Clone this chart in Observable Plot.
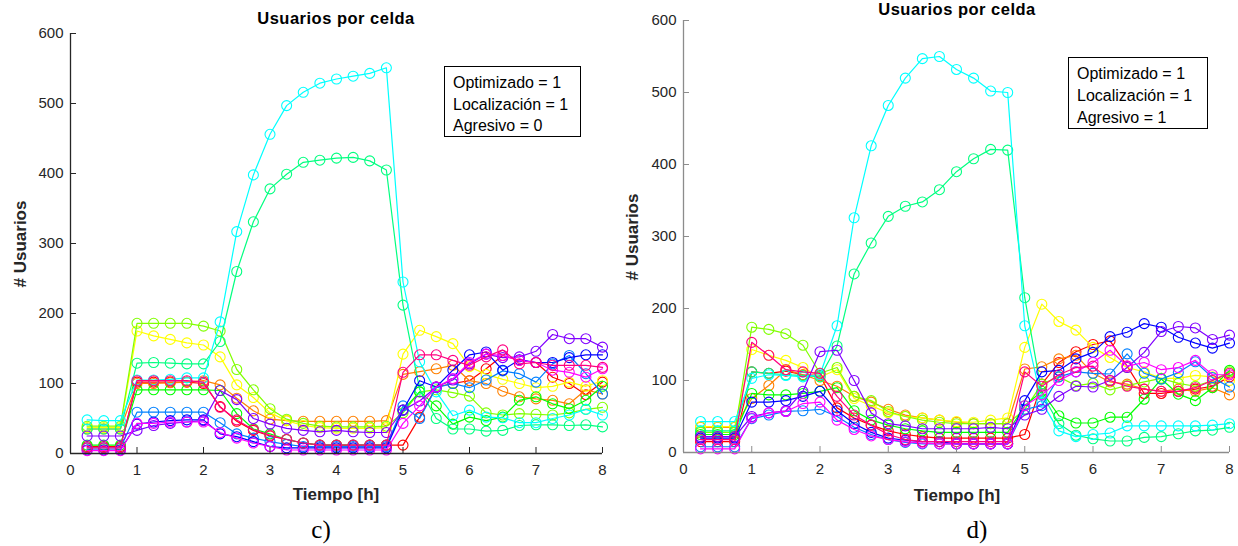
<!DOCTYPE html>
<html><head><meta charset="utf-8">
<script src="https://cdn.jsdelivr.net/npm/d3@7"></script>
<script src="https://cdn.jsdelivr.net/npm/@observablehq/plot@0.6"></script>
<style>
body{margin:0;background:#fff;}
#wrap{position:relative;width:1238px;height:546px;overflow:hidden;background:#fff;font-family:"Liberation Sans",Arial,sans-serif;}
.panel{position:absolute;top:0;}
.t{position:absolute;white-space:nowrap;line-height:1;transform:translate(-50%,-50%);color:#000;}
.title{font-weight:bold;font-size:16.5px;letter-spacing:0.5px;}
.xl{font-weight:bold;font-size:17px;color:#262626;}
.yl{font-weight:bold;font-size:17px;color:#262626;transform:translate(-50%,-50%) rotate(-90deg);}
.cap{font-family:"Liberation Serif","Times New Roman",serif;font-size:25px;}
.box{position:absolute;border:1.3px solid #000;background:#fff;box-sizing:border-box;}
.box div{position:absolute;left:8px;font-size:16px;line-height:1;color:#000;white-space:nowrap;transform:translateY(-50%);}
</style>
</head><body>
<div id="wrap">
  <div class="panel" id="pc" style="left:0px"></div>
  <div class="panel" id="pd" style="left:620px"></div>
  <div class="t title" style="left:336px;top:18px">Usuarios por celda</div>
  <div class="t title" style="left:957px;top:9px">Usuarios por celda</div>
  <div class="t yl" style="left:20px;top:244px"># Usuarios</div>
  <div class="t yl" style="left:632px;top:237px"># Usuarios</div>
  <div class="t xl" style="left:336px;top:494px">Tiempo [h]</div>
  <div class="t xl" style="left:957px;top:495px">Tiempo [h]</div>
  <div class="t cap" style="left:321px;top:529px">c)</div>
  <div class="t cap" style="left:977px;top:529px">d)</div>
  <div class="box" style="left:444px;top:66px;width:137px;height:71px">
    <div style="top:16px">Optimizado = 1</div>
    <div style="top:38px">Localización = 1</div>
    <div style="top:59px">Agresivo = 0</div>
  </div>
  <div class="box" style="left:1068px;top:57px;width:140px;height:72px">
    <div style="top:16px">Optimizado = 1</div>
    <div style="top:38px">Localización = 1</div>
    <div style="top:60px">Agresivo = 1</div>
  </div>
</div>
<script>
const tiempo = [0.25,0.5,0.75,1,1.25,1.5,1.75,2,2.25,2.5,2.75,3,3.25,3.5,3.75,4,4.25,4.5,4.75,5,5.25,5.5,5.75,6,6.25,6.5,6.75,7,7.25,7.5,7.75,8];
const xTicks = [0,1,2,3,4,5,6,7,8];
const yTicks = [0,100,200,300,400,500,600];
const colores = ["#ff0000","#ff8000","#ffff00","#80ff00","#00ff00","#00ff80","#00ffff","#0080ff","#0000ff","#8000ff","#ff00ff","#ff0080"];

// Panel c) Optimizado=1, Localización=1, Agresivo=0
const cRed       = [10,10,10,102,102,102,102,100,67,46,33,25,20,15,12,12,12,12,12,12,52,95,100,104,121,140,133,130,109,100,84,102];
const cOrange    = [35,35,35,100,100,101,102,104,98,79,61,49,47,46,46,46,46,46,47,113,117,121,126,104,100,89,81,78,76,71,91,85];
const cYellow    = [37,37,37,175,168,163,158,155,138,98,80,58,47,40,37,36,36,36,37,142,176,167,157,124,113,106,100,94,96,102,96,104];
const cChartreuse= [39,39,39,186,186,186,186,182,175,120,91,64,49,43,39,38,38,38,39,58,88,91,87,82,58,55,57,56,55,58,63,66];
const cGreen     = [12,12,12,91,91,91,91,91,90,57,35,28,20,15,12,12,12,12,12,62,88,68,42,52,47,52,76,81,71,64,76,96];
const cSpring    = [35,35,35,129,130,129,128,128,160,260,331,378,399,416,419,422,423,418,405,212,92,50,35,35,32,33,40,41,41,40,41,38];
const cCyan      = [48,47,47,105,105,106,108,108,188,317,398,456,497,516,529,535,539,543,551,245,131,88,54,62,52,51,44,44,50,55,63,55];
const cAzure     = [8,8,8,59,59,59,59,59,44,28,22,17,13,10,10,10,10,10,10,68,50,94,100,94,105,118,114,102,128,140,114,85];
const cBlue      = [5,5,5,42,45,47,48,48,28,24,17,10,8,8,8,8,8,8,8,62,104,95,119,141,145,119,134,130,130,137,141,141];
const cViolet    = [25,25,25,33,40,43,45,47,90,77,50,42,36,33,31,33,31,30,30,62,75,95,105,128,142,137,138,146,170,164,164,152];
const cMagenta   = [4,4,4,43,43,45,45,45,30,22,15,10,5,5,5,5,5,5,5,43,68,95,107,130,142,140,133,130,119,116,109,121];
const cRose      = [8,8,8,104,104,104,104,102,66,48,34,26,20,15,12,12,12,12,12,116,141,141,133,126,138,148,128,130,126,126,126,123];

// Panel d) Optimizado=1, Localización=1, Agresivo=1
const dRed       = [15,15,15,112,110,113,108,107,62,48,38,30,25,22,20,20,20,20,20,25,95,125,140,150,155,120,82,82,85,88,92,105];
const dOrange    = [35,35,35,75,93,115,108,100,92,78,70,60,52,48,45,42,40,40,40,116,119,130,135,110,98,95,88,85,88,85,90,80];
const dYellow    = [36,36,36,143,135,128,118,105,115,75,65,55,50,48,45,43,42,45,48,146,206,182,170,146,132,118,112,103,103,107,105,100];
const dChartreuse= [28,28,28,174,171,165,149,110,118,78,72,57,50,45,42,40,40,40,40,60,95,105,93,96,87,93,98,103,96,92,100,112];
const dGreen     = [25,25,25,82,80,80,82,85,90,58,45,38,33,30,28,28,28,28,28,65,85,51,41,41,49,49,74,102,81,72,90,114];
const dSpring    = [30,30,30,112,110,108,107,105,148,248,291,328,342,348,365,390,408,421,420,215,82,40,24,19,16,16,21,22,26,30,31,35];
const dCyan      = [43,43,43,103,108,107,105,108,176,326,426,482,520,547,550,532,520,502,500,176,70,30,22,25,27,37,37,37,37,37,38,40];
const dAzure     = [8,8,8,47,52,57,58,60,50,35,25,18,14,12,12,12,12,12,12,60,65,105,112,110,109,137,110,102,111,126,104,91];
const dBlue      = [20,20,20,70,70,72,78,85,58,40,28,20,17,15,15,12,12,12,12,72,112,114,130,139,161,167,179,174,160,152,145,152];
const dViolet    = [22,22,22,50,55,58,85,140,142,100,55,40,37,33,33,33,33,35,33,52,60,78,92,91,100,118,139,168,175,173,157,163];
const dMagenta   = [5,5,5,48,55,57,68,70,45,32,23,18,15,13,12,12,12,12,12,65,80,100,112,125,142,120,125,115,118,128,108,108];
const dRose      = [18,18,18,153,135,115,112,110,78,52,38,25,18,15,15,15,15,15,15,112,92,108,118,120,100,92,88,85,85,90,100,110];

const cSeries = [cRed,cOrange,cYellow,cChartreuse,cGreen,cSpring,cCyan,cAzure,cBlue,cViolet,cMagenta,cRose];
const dSeries = [dRed,dOrange,dYellow,dChartreuse,dGreen,dSpring,dCyan,dAzure,dBlue,dViolet,dMagenta,dRose];

function panel(series, o) {
  const plotW = o.width - o.marginLeft - o.marginRight;
  const plotH = o.height - o.marginTop - o.marginBottom;
  const tickLen = 6;
  const marks = [
    Plot.axisX({ticks: xTicks, tickSize: 0, tickPadding: 11, label: null, tickFormat: d => String(d)}),
    Plot.axisY({ticks: yTicks, tickSize: 0, tickPadding: 7, label: null, tickFormat: d => String(d)})
  ];
  series.forEach((vals, i) => {
    const rows = vals.map((v, j) => ({t: tiempo[j], v}));
    marks.push(Plot.line(rows, {x: "t", y: "v", stroke: colores[i], strokeWidth: 1.2}));
    marks.push(Plot.dot(rows, {x: "t", y: "v", stroke: colores[i], r: 5, strokeWidth: 1.1}));
  });
  marks.push(Plot.ruleY([0], {stroke: o.axis, strokeWidth: 1.3}));
  marks.push(Plot.ruleX([0], {stroke: o.axis, strokeWidth: 1.3}));
  marks.push(Plot.ruleX(xTicks, {x: d => d, y1: 0, y2: 600 * tickLen / plotH, stroke: o.axis, strokeWidth: 1}));
  marks.push(Plot.ruleY(yTicks, {y: d => d, x1: 0, x2: 8 * tickLen / plotW, stroke: o.axis, strokeWidth: 1}));
  return Plot.plot({
    width: o.width, height: o.height,
    marginLeft: o.marginLeft, marginRight: o.marginRight, marginTop: o.marginTop, marginBottom: o.marginBottom,
    x: {domain: [0, 8]},
    y: {domain: [0, 600]},
    style: {fontSize: "15px", fontFamily: '"Liberation Sans", Arial, sans-serif', color: "#262626", background: "transparent", overflow: "visible"},
    marks
  });
}

document.getElementById("pc").appendChild(panel(cSeries, {width: 620, height: 500, marginLeft: 70, marginRight: 18, marginTop: 33, marginBottom: 47, axis: "#262626"}));
document.getElementById("pd").appendChild(panel(dSeries, {width: 618, height: 500, marginLeft: 63, marginRight: 9, marginTop: 20, marginBottom: 48, axis: "#8c8c8c"}));
</script>
</body></html>
